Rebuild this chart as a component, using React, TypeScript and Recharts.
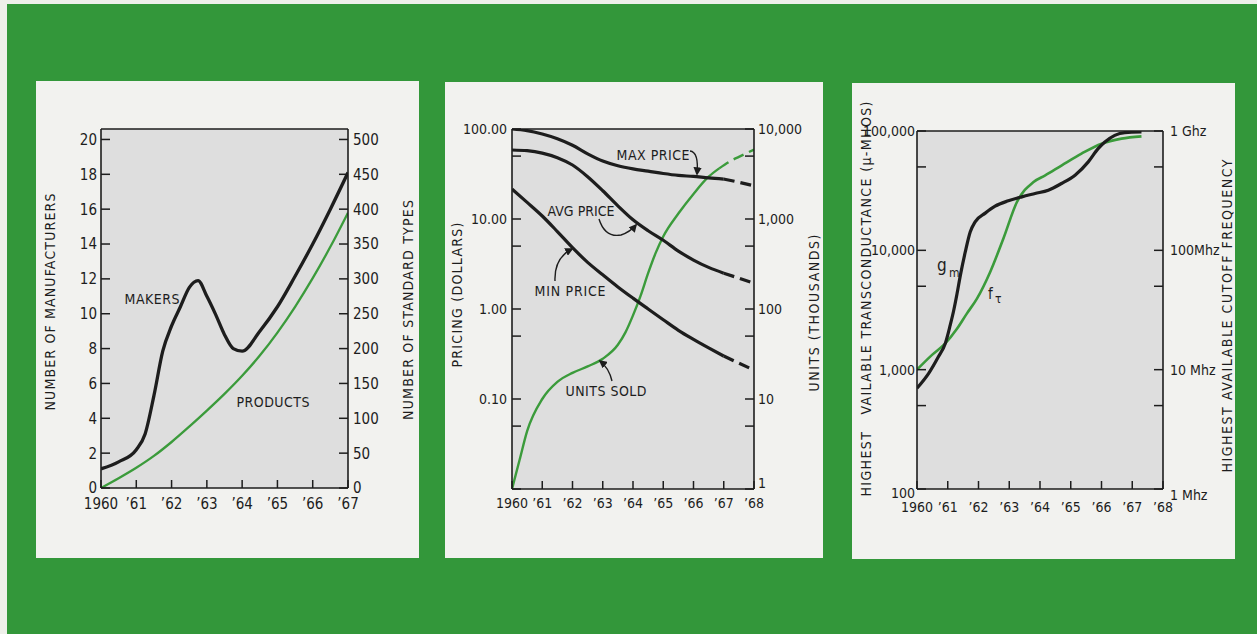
import React from "react";
import { LineChart, Line, XAxis, YAxis, CartesianGrid, ReferenceLine } from "recharts";

const INK = "#1d1d1d";
const GREEN = "#3b9b3b";
const PLOT = "#dedede";
const CARD = "#f2f2ef";
const BG = "#33973a";
const FONT = "'DejaVu Sans Condensed', 'DejaVu Sans', sans-serif";

// panel 1: manufacturers / standard types
const P1_YEARS = [1960, 1960.5, 1961, 1961.25, 1961.5, 1961.75, 1962, 1962.25, 1962.5, 1962.75, 1963, 1963.25, 1963.5, 1963.75, 1964, 1964.5, 1965, 1965.5, 1966, 1966.5, 1967];
const MAKERS = [1.1, 1.5, 2.2, 3.1, 5.3, 7.85, 9.3, 10.4, 11.5, 11.9, 11.0, 9.95, 8.8, 8.0, 7.85, 9.0, 10.4, 12.15, 14.0, 16.0, 18.1];
const PRODUCT_YEARS = [1960, 1960.5, 1961, 1961.5, 1962, 1962.5, 1963, 1963.5, 1964, 1964.5, 1965, 1965.5, 1966, 1966.5, 1967];
const PRODUCTS = [0, 14, 29, 46, 66, 88, 111, 135, 161, 190, 223, 260, 301, 346, 395];
const P1_TICKS = [1960, 1961, 1962, 1963, 1964, 1965, 1966, 1967];
const MAKER_TICKS = [0, 2, 4, 6, 8, 10, 12, 14, 16, 18, 20];
const TYPE_TICKS = [0, 50, 100, 150, 200, 250, 300, 350, 400, 450, 500];

// panel 2: pricing / units sold
const P2_YEARS = [1960, 1960.5, 1961, 1961.5, 1962, 1962.5, 1963, 1963.5, 1964, 1964.5, 1965, 1965.5, 1966, 1966.5, 1967, 1967.5, 1968];
const MAX_PRICE = [100, 96, 88, 78, 66, 53, 44, 39, 36, 34, 32, 30.5, 29.7, 28.6, 27.8, 25.6, 23.4];
const AVG_PRICE = [58.4, 57.4, 54, 48, 39.8, 29.5, 20.6, 14.0, 9.8, 7.4, 5.8, 4.4, 3.5, 2.9, 2.5, 2.2, 1.93];
const MIN_PRICE = [21.5, 15.3, 10.8, 7.25, 4.8, 3.3, 2.4, 1.76, 1.32, 1.0, 0.76, 0.58, 0.46, 0.37, 0.3, 0.25, 0.21];
const PRICE_DASH_FROM = 1967;
const UNITS_YEARS = [1960, 1960.25, 1960.5, 1961, 1961.5, 1962, 1962.5, 1963, 1963.5, 1963.75, 1964, 1964.25, 1964.5, 1964.75, 1965, 1965.5, 1966, 1966.5, 1966.85, 1967.25, 1967.5, 1968];
const UNITS_SOLD = [1, 2.1, 4.4, 10.0, 15.5, 19.5, 23, 28, 40, 55, 85, 140, 250, 420, 640, 1150, 1900, 2950, 3650, 4450, 4900, 5900];
const UNITS_DASH_FROM = 1966.85;
const P2_TICKS = [1960, 1961, 1962, 1963, 1964, 1965, 1966, 1967, 1968];
const PRICE_TICKS = [0.01, 0.05, 0.1, 0.5, 1, 5, 10, 50, 100];
const PRICE_LABELS = ["", "", "0.10", "", "1.00", "", "10.00", "", "100.00"];
const UNIT_TICKS = [1, 5, 10, 50, 100, 500, 1000, 5000, 10000];
const UNIT_LABELS = ["1", "", "10", "", "100", "", "1,000", "", "10,000"];

// panel 3: transconductance / cutoff frequency
const GM_YEARS = [1960, 1960.38, 1960.7, 1960.92, 1961.08, 1961.19, 1961.3, 1961.41, 1961.57, 1961.73, 1961.89, 1962.22, 1962.54, 1962.97, 1963.41, 1963.84, 1964.27, 1964.7, 1965.14, 1965.57, 1965.89, 1966.11, 1966.43, 1966.76, 1967.3];
const GM = [700, 933, 1290, 1660, 2360, 3100, 4300, 6170, 9700, 14260, 17330, 20500, 23450, 26000, 28070, 29930, 31900, 36300, 42600, 55100, 71200, 80900, 92000, 96900, 98100];
const FT_YEARS = [1960, 1960.49, 1960.92, 1961.3, 1961.62, 1961.95, 1962.38, 1962.81, 1963.25, 1963.79, 1964.17, 1964.71, 1965.35, 1966, 1966.65, 1967.3];
const FT_MHZ = [10, 13.3, 16.6, 22, 29.5, 39.4, 65.9, 125.7, 254, 374, 425, 516, 646, 783, 863, 902];
const P3_TICKS = [1960, 1961, 1962, 1963, 1964, 1965, 1966, 1967, 1968];
const GM_TICKS = [100, 500, 1000, 5000, 10000, 50000, 100000];
const GM_LABELS = ["100", "", "1,000", "", "10,000", "", "100,000"];
const FT_TICKS = [1, 5, 10, 50, 100, 500, 1000];
const FT_LABELS = ["1 Mhz", "", "10 Mhz", "", "100Mhz", "", "1 Ghz"];

const rows = (xs: number[], ys: number[]) => xs.map((year, i) => ({ year, v: ys[i] }));
const upTo = (xs: number[], ys: number[], end: number) => rows(xs, ys).filter((d) => d.year <= end);
const from = (xs: number[], ys: number[], start: number) => rows(xs, ys).filter((d) => d.year >= start);

const yearLabel = (v: number) => (v === 1960 ? "1960" : "\u2019" + String(v).slice(2));
const lookup = (ticks: number[], labels: string[]) => (v: number) => {
  const i = ticks.findIndex((t) => Math.abs(t - v) < t * 1e-6);
  return i < 0 ? "" : labels[i];
};

const AXIS = { stroke: INK, strokeWidth: 1.6 };

// ticks point into the plot, labels sit outside
const axisTick =
  (side: "left" | "right" | "bottom", fmt: (v: number) => string, fontSize: number, off: number, shift: Record<string, number> = {}) =>
  (p: any) => {
    const { x, y, payload } = p;
    const v = payload.value;
    const t = fmt(v);
    const d = shift[String(v)] ?? 0;
    const txt = { fontSize, fill: INK, fontFamily: FONT };
    if (side === "left") {
      return (
        <g>
          <line x1={x} x2={x + 9} y1={y} y2={y} stroke={INK} strokeWidth={1.5} />
          {t && <text x={x - off} y={y + d} dy="0.36em" textAnchor="end" {...txt}>{t}</text>}
        </g>
      );
    }
    if (side === "right") {
      return (
        <g>
          <line x1={x - 9} x2={x} y1={y} y2={y} stroke={INK} strokeWidth={1.5} />
          {t && <text x={x + off} y={y + d} dy="0.36em" textAnchor="start" {...txt}>{t}</text>}
        </g>
      );
    }
    return (
      <g>
        <line x1={x} x2={x} y1={y - 8} y2={y} stroke={INK} strokeWidth={1.5} />
        {t && <text x={x} y={y + off} dy="0.36em" textAnchor="middle" {...txt}>{t}</text>}
      </g>
    );
  };

const axisCommon = { tickSize: 0, tickMargin: 0, tickLine: false, axisLine: AXIS, interval: 0 as const, allowDataOverflow: true };

function ManufacturersChart() {
  return (
    <LineChart width={383} height={477} margin={{ top: 48, right: 0, bottom: 40, left: 0 }}>
      <CartesianGrid horizontal={false} vertical={false} fill={PLOT} fillOpacity={1} />
      <XAxis type="number" dataKey="year" domain={[1960, 1967]} ticks={P1_TICKS} height={30} {...axisCommon} tick={axisTick("bottom", yearLabel, 15, 16)} />
      <YAxis type="number" domain={[0, 20.6]} ticks={MAKER_TICKS} width={65} {...axisCommon} tick={axisTick("left", (v) => String(v), 15, 4)} />
      <YAxis yAxisId="r" orientation="right" type="number" domain={[0, 515]} ticks={TYPE_TICKS} width={71} {...axisCommon} tick={axisTick("right", (v) => String(v), 15, 5)} />
      <ReferenceLine y={20.6} stroke={INK} strokeWidth={1.6} />
      <Line data={rows(PRODUCT_YEARS, PRODUCTS)} yAxisId="r" dataKey="v" type="monotone" stroke={GREEN} strokeWidth={2.3} dot={false} activeDot={false} isAnimationActive={false} />
      <Line data={rows(P1_YEARS, MAKERS)} dataKey="v" type="monotone" stroke={INK} strokeWidth={3.3} dot={false} activeDot={false} isAnimationActive={false} />
    </LineChart>
  );
}

function PricingChart() {
  const black = { dataKey: "v", type: "monotone" as const, stroke: INK, strokeWidth: 3.2, dot: false, activeDot: false, isAnimationActive: false };
  const green = { ...black, stroke: GREEN, strokeWidth: 2.4, yAxisId: "r" };
  const dash = "11 6";
  return (
    <LineChart width={378} height={476} margin={{ top: 47, right: 0, bottom: 39, left: 0 }}>
      <CartesianGrid horizontal={false} vertical={false} fill={PLOT} fillOpacity={1} />
      <XAxis type="number" dataKey="year" domain={[1960, 1968]} ticks={P2_TICKS} height={30} {...axisCommon} tick={axisTick("bottom", yearLabel, 14, 14)} />
      <YAxis type="number" scale="log" domain={[0.01, 100]} ticks={PRICE_TICKS} width={67} {...axisCommon} tick={axisTick("left", lookup(PRICE_TICKS, PRICE_LABELS), 14, 5)} />
      <YAxis yAxisId="r" orientation="right" type="number" scale="log" domain={[1, 10000]} ticks={UNIT_TICKS} width={69} {...axisCommon} tick={axisTick("right", lookup(UNIT_TICKS, UNIT_LABELS), 14, 4, { "1": -6 })} />
      <ReferenceLine y={100} stroke={INK} strokeWidth={1.6} />
      <Line data={upTo(UNITS_YEARS, UNITS_SOLD, UNITS_DASH_FROM)} {...green} />
      <Line data={from(UNITS_YEARS, UNITS_SOLD, UNITS_DASH_FROM)} {...green} strokeDasharray={dash} />
      <Line data={upTo(P2_YEARS, MAX_PRICE, PRICE_DASH_FROM)} {...black} />
      <Line data={from(P2_YEARS, MAX_PRICE, PRICE_DASH_FROM)} {...black} strokeDasharray={dash} />
      <Line data={upTo(P2_YEARS, AVG_PRICE, PRICE_DASH_FROM)} {...black} />
      <Line data={from(P2_YEARS, AVG_PRICE, PRICE_DASH_FROM)} {...black} strokeDasharray={dash} />
      <Line data={upTo(P2_YEARS, MIN_PRICE, PRICE_DASH_FROM)} {...black} />
      <Line data={from(P2_YEARS, MIN_PRICE, PRICE_DASH_FROM)} {...black} strokeDasharray={dash} />
    </LineChart>
  );
}

function TransconductanceChart() {
  return (
    <LineChart width={383} height={476} margin={{ top: 48, right: 0, bottom: 40, left: 0 }}>
      <CartesianGrid horizontal={false} vertical={false} fill={PLOT} fillOpacity={1} />
      <XAxis type="number" dataKey="year" domain={[1960, 1968]} ticks={P3_TICKS} height={30} {...axisCommon} tick={axisTick("bottom", yearLabel, 14, 18)} />
      <YAxis type="number" scale="log" domain={[100, 100000]} ticks={GM_TICKS} width={65} {...axisCommon} tick={axisTick("left", lookup(GM_TICKS, GM_LABELS), 14, 2, { "100": 4 })} />
      <YAxis yAxisId="r" orientation="right" type="number" scale="log" domain={[1, 1000]} ticks={FT_TICKS} width={72} {...axisCommon} tick={axisTick("right", lookup(FT_TICKS, FT_LABELS), 14, 7, { "1": 6 })} />
      <ReferenceLine y={100000} stroke={INK} strokeWidth={1.6} />
      <Line data={rows(FT_YEARS, FT_MHZ)} yAxisId="r" dataKey="v" type="monotone" stroke={GREEN} strokeWidth={2.6} dot={false} activeDot={false} isAnimationActive={false} />
      <Line data={rows(GM_YEARS, GM)} dataKey="v" type="monotone" stroke={INK} strokeWidth={3.2} dot={false} activeDot={false} isAnimationActive={false} />
    </LineChart>
  );
}

const CARDS = [
  { left: 36, top: 81, width: 383, height: 477, Chart: ManufacturersChart },
  { left: 445, top: 82, width: 378, height: 476, Chart: PricingChart },
  { left: 852, top: 83, width: 383, height: 476, Chart: TransconductanceChart },
];

const TITLES = [
  { text: "NUMBER OF MANUFACTURERS", cx: 50, cy: 302, len: 217 },
  { text: "NUMBER OF STANDARD TYPES", cx: 408, cy: 310, len: 220 },
  { text: "PRICING (DOLLARS)", cx: 457, cy: 295, len: 145 },
  { text: "UNITS (THOUSANDS)", cx: 814, cy: 313, len: 157 },
  { text: "HIGHEST   VAILABLE TRANSCONDUCTANCE (\u03BC-MHOS)", cx: 866, cy: 299, len: 395 },
  { text: "HIGHEST AVAILABLE CUTOFF FREQUENCY", cx: 1227, cy: 316, len: 313 },
];

const NOTES = [
  { text: "MAKERS", cx: 152, cy: 299, len: 55 },
  { text: "PRODUCTS", cx: 273, cy: 402, len: 73 },
  { text: "MAX PRICE", cx: 653, cy: 155, len: 73 },
  { text: "AVG PRICE", cx: 581, cy: 211, len: 67 },
  { text: "MIN PRICE", cx: 570, cy: 291, len: 71 },
  { text: "UNITS SOLD", cx: 606, cy: 391, len: 81 },
];

const ARROWS = [
  "M690,151 Q699,152 697,174",
  "M599,219 Q605,238 621,235 Q630,232 636,225",
  "M555,281 Q554,258 572,249",
  "M612,381 Q609,368 600,361",
];

function Overlay() {
  return (
    <svg width={1257} height={634} style={{ position: "absolute", left: 0, top: 0, pointerEvents: "none" }} fontFamily={FONT}>
      <defs>
        <marker id="ah" viewBox="0 0 10 10" refX="8" refY="5" markerWidth="6" markerHeight="6" orient="auto">
          <path d="M0,0 L10,5 L0,10 z" fill={INK} />
        </marker>
      </defs>
      {TITLES.map((t) => (
        <text key={t.text} transform={`translate(${t.cx},${t.cy}) rotate(-90)`} textAnchor="middle" dy="0.36em" fontSize={14} fill={INK} textLength={t.len} lengthAdjust="spacing" style={{ whiteSpace: "pre" }}>
          {t.text}
        </text>
      ))}
      {NOTES.map((t) => (
        <text key={t.text} x={t.cx} y={t.cy} textAnchor="middle" dy="0.36em" fontSize={14} fill={INK} textLength={t.len} lengthAdjust="spacing">
          {t.text}
        </text>
      ))}
      {ARROWS.map((d) => (
        <path key={d} d={d} fill="none" stroke={INK} strokeWidth={1.4} markerEnd="url(#ah)" />
      ))}
      <text x={937} y={271} fontSize={17} fill={INK}>g</text>
      <text x={949} y={277} fontSize={12} fill={INK}>m</text>
      <text x={988} y={299} fontSize={15} fill={INK}>f</text>
      <text x={995} y={303} fontSize={12} fill={INK}>{"\u03C4"}</text>
    </svg>
  );
}

export default function App() {
  return (
    <div style={{ position: "absolute", left: 0, top: 0, width: 1257, height: 634, background: "#eef0ea", overflow: "hidden" }}>
      <div style={{ position: "absolute", left: 7, top: 4, right: 0, bottom: 0, background: BG }} />
      {CARDS.map(({ left, top, width, height, Chart }, i) => (
        <div key={i} style={{ position: "absolute", left, top, width, height, background: CARD }}>
          <Chart />
        </div>
      ))}
      <Overlay />
    </div>
  );
}
